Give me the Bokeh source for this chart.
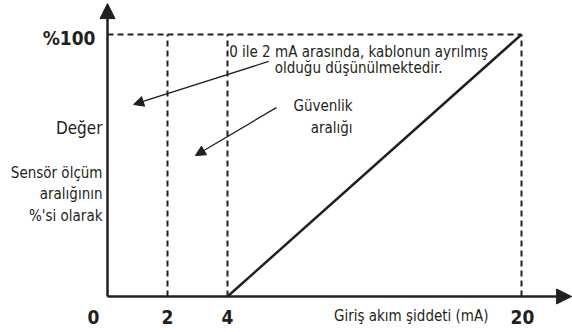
from bokeh.plotting import figure
from bokeh.models import Range1d, ColumnDataSource, Arrow, NormalHead
from bokeh.core.properties import value
from bokeh.embed import file_html
from bokeh.resources import INLINE
import numpy as np

# --- data ---------------------------------------------------------------
guide_mA = [2, 4, 20]                 # dashed reference currents
full_scale_pct = 100                  # top of the sensor range
signal_mA = [4, 20]                   # live-zero 4..20 mA signal
signal_pct = [0, 100]
tick_mA = [0, 2, 4, 20]
tick_text = ["0", "2", "4", "20"]

# --- broken current axis: 0..4 mA drawn wide, 4..20 mA compressed -------
AXIS_BREAKS_MA = [0, 4, 20]
AXIS_BREAKS_POS = [0, 4, 13.8]


def xs(v):
    return np.interp(np.asarray(v, dtype=float), AXIS_BREAKS_MA, AXIS_BREAKS_POS)


INK = "#231f20"
FONT = value("'DejaVu Sans Condensed', Roboto, sans-serif")

p = figure(width=572, height=332, output_backend="svg", toolbar_location=None,
           x_range=Range1d(-107 / 30, 465 / 30),
           y_range=Range1d(-36 / 2.62, 100 + 34 / 2.62),
           x_axis_location=None, y_axis_location=None, min_border=0)
p.grid.visible = False
p.outline_line_color = None
p.background_fill_color = "white"
p.border_fill_color = "white"

# dashed guides: full-scale line and the 2, 4, 20 mA verticals
p.line(xs([0, guide_mA[-1]]), [full_scale_pct, full_scale_pct],
       line_color=INK, line_width=2, line_dash="6 4")
for g in guide_mA:
    p.line(xs([g, g]), [0, full_scale_pct], line_color=INK, line_width=2, line_dash="6 4")

# measured value vs input current
p.line(xs(signal_mA), signal_pct, line_color=INK, line_width=2.5)

# axes with arrow heads
p.add_layout(Arrow(end=NormalHead(size=15, fill_color=INK, line_color=INK),
                   x_start=0, y_start=0, x_end=15.47, y_end=0,
                   line_color=INK, line_width=2.5))
p.add_layout(Arrow(end=NormalHead(size=15, fill_color=INK, line_color=INK),
                   x_start=0, y_start=0, x_end=0, y_end=111.8,
                   line_color=INK, line_width=2.5))

# pointer arrows for the annotations
p.add_layout(Arrow(end=NormalHead(size=10, fill_color=INK, line_color=INK),
                   x_start=5.37, y_start=89.7, x_end=0.87, y_end=73.3,
                   line_color=INK, line_width=1.3))
p.add_layout(Arrow(end=NormalHead(size=10, fill_color=INK, line_color=INK),
                   x_start=5.63, y_start=72.1, x_end=2.93, y_end=53.8,
                   line_color=INK, line_width=1.3))

# tick labels under the current axis
tick_src = ColumnDataSource(dict(x=xs(tick_mA), y=[-8.0] * len(tick_mA), t=tick_text,
                                 dx=[-14, 0, 0, 1]))
p.text(x="x", y="y", text="t", x_offset="dx", source=tick_src, text_font=FONT,
       text_font_style="bold", text_font_size="19px", text_color=INK,
       text_align="center", text_baseline="middle")

p.text(x=[0], y=[98.85], text=["%100"], x_offset=-12, text_font=FONT,
       text_font_style="bold", text_font_size="19px", text_color=INK,
       text_align="right", text_baseline="middle")

p.text(x=[12.7], y=[-7.3], text=["Giriş akım şiddeti (mA)"], text_font=FONT,
       text_font_size="15px", text_color=INK, text_align="right", text_baseline="middle")

# y-axis description
p.text(x=[0], y=[64.5], text=["Değer"], x_offset=-5, text_font=FONT,
       text_font_size="17px", text_color=INK, text_align="right", text_baseline="middle")
p.text(x=[0, 0, 0], y=[47.3, 39.3, 30.9],
       text=["Sensör ölçüm", "aralığının", "%'si olarak"], x_offset=-5, text_font=FONT,
       text_font_size="15px", text_color=INK, text_align="right", text_baseline="middle")

# annotation texts
p.text(x=[8.37, 8.37], y=[93.5, 87.4],
       text=["0 ile 2 mA arasında, kablonun ayrılmış", "olduğu düşünülmektedir."],
       text_font=FONT, text_font_size="15px", text_color=INK,
       text_align="center", text_baseline="middle")
p.text(x=[8.17, 8.17], y=[72.9, 64.5], text=["Güvenlik", "aralığı"],
       text_font=FONT, text_font_size="15px", text_color=INK,
       text_align="right", text_baseline="middle")

open("out.html", "w").write(file_html(p, INLINE))
